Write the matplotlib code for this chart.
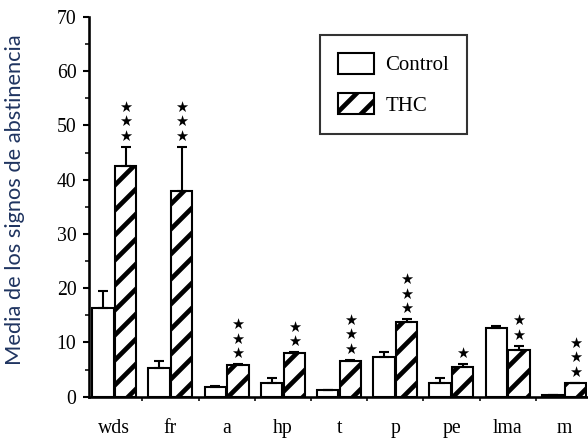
import numpy as np
import matplotlib
matplotlib.use("Agg")
import matplotlib.pyplot as plt
from matplotlib.ticker import MultipleLocator, FixedLocator

categories = ["wds", "fr", "a", "hp", "t", "p", "pe", "lma", "m"]
control_mean = [16.4, 5.3, 1.8, 2.6, 1.2, 7.4, 2.6, 12.6, 0.3]
control_err = [3.0, 1.2, 0.2, 0.8, 0.1, 0.8, 0.8, 0.4, 0.0]
thc_mean = [42.6, 38.0, 5.8, 8.1, 6.6, 13.8, 5.5, 8.6, 2.5]
thc_err = [3.5, 8.1, 0.2, 0.1, 0.2, 0.5, 0.5, 0.8, 0.1]
stars = [3, 3, 3, 2, 3, 3, 1, 2, 3]
y_ticks = [0, 10, 20, 30, 40, 50, 60, 70]

DPI = 75
plt.rcParams["hatch.linewidth"] = 4.5
plt.rcParams["hatch.color"] = "black"

fig = plt.figure(figsize=(588 / DPI, 438 / DPI), dpi=DPI)
ax = fig.add_axes([89 / 588, (438 - 396.7) / 438, (587 - 89) / 588, (396.7 - 17) / 438])

x = np.arange(len(categories))
w = 0.38
off = w / 2 * 1.06

ax.bar(x - off, control_mean, w, color="white", edgecolor="black",
       linewidth=2, label="Control", zorder=2)
ax.bar(x + off, thc_mean, w, color="white", edgecolor="black",
       linewidth=2, hatch="/", label="THC", zorder=2)

ax.errorbar(x - off, control_mean, yerr=[np.zeros(len(x)), control_err],
            fmt="none", ecolor="black", elinewidth=2, capsize=5, capthick=2, zorder=3)
ax.errorbar(x + off, thc_mean, yerr=[np.zeros(len(x)), thc_err],
            fmt="none", ecolor="black", elinewidth=2, capsize=5, capthick=2, zorder=3)

tops = np.array(thc_mean) + np.array(thc_err)
for xi, top, n in zip(x + off, tops, stars):
    ax.annotate("\n".join(["★"] * n), xy=(xi, top), xytext=(0, 3),
                textcoords="offset points", ha="center", va="bottom",
                fontsize=14, linespacing=0.95, family="DejaVu Sans", color="black")

ax.set_ylim(0, 70)
ax.set_xlim(-0.45, 8 + off + w / 2 + 0.02)
ax.yaxis.set_major_locator(FixedLocator(y_ticks))
ax.yaxis.set_minor_locator(MultipleLocator(5))
ax.set_xticks(x)
ax.set_xticklabels(categories, family="Liberation Serif", fontsize=19)
ax.xaxis.set_minor_locator(FixedLocator(x[:-1] + 0.5))
ax.set_yticklabels([str(t) for t in y_ticks], family="Liberation Serif", fontsize=19)
ax.tick_params(axis="x", which="major", length=0, pad=21)
ax.tick_params(axis="x", which="minor", length=4, width=1.5, direction="out")
ax.tick_params(axis="y", which="major", length=6, width=2, direction="out", pad=6)
ax.tick_params(axis="y", which="minor", length=4, width=1.5, direction="out")

for s in ["top", "right"]:
    ax.spines[s].set_visible(False)
for s in ["left", "bottom"]:
    ax.spines[s].set_linewidth(2.5)

leg = ax.legend(loc="upper left", bbox_to_anchor=((320 - 89) / 498, (396.7 - 35) / 379.7),
                prop={"family": "Liberation Serif", "size": 20},
                frameon=True, fancybox=False, edgecolor="black",
                handlelength=1.75, handleheight=1.2, labelspacing=0.85,
                borderpad=0.85, handletextpad=0.55, borderaxespad=0)
leg.get_frame().set_linewidth(2)

fig.text(15 / 588, (438 - 200) / 438, "Media de los signos de abstinencia",
         rotation=90, ha="center", va="center", family="Lato", fontsize=21,
         color="#1f3460")

fig.savefig("out.png", dpi=DPI)
